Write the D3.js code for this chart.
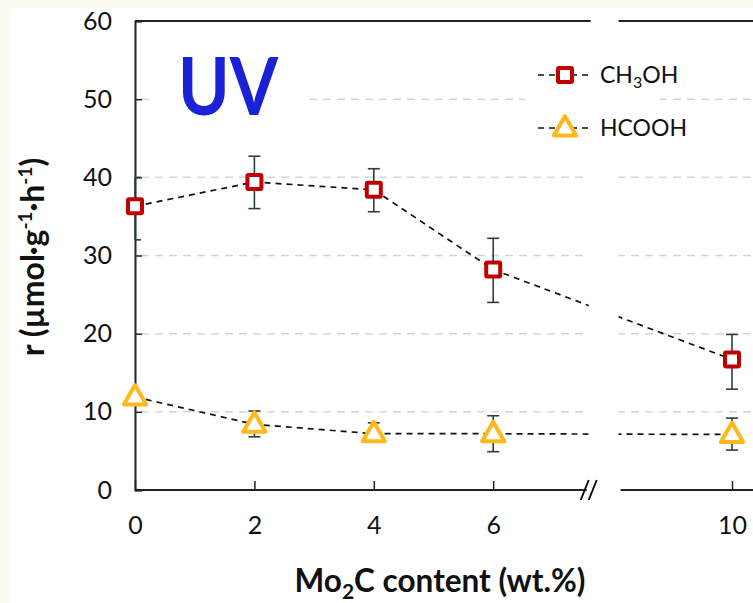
<html>

<head>
  <title>UV rate vs Mo2C content</title>
  <style>
    body { margin: 0; background: #fbfbf4; }
    text { font-family: Lato, "Open Sans", sans-serif; }
  </style>
</head>

<body>
  <script src="https://d3js.org/d3.v7.min.js"></script>
  <script>
    // data
    var loadings = [0, 2, 4, 6, 10];
    var xTicks = [0, 2, 4, 6, 10];
    var yTicks = [0, 10, 20, 30, 40, 50, 60];

    var ch3oh = [36.3, 39.4, 38.4, 28.2, 16.7];
    var ch3ohLow = [32.0, 36.0, 35.6, 24.0, 12.9];
    var ch3ohHigh = [40.0, 42.7, 41.1, 32.2, 19.9];

    var hcooh = [11.9, 8.4, 7.2, 7.2, 7.1];
    var hcoohLow = [11.9, 6.8, 7.2, 4.9, 5.1];
    var hcoohHigh = [11.9, 10.1, 8.6, 9.5, 9.2];

    var W = 753, H = 603;
    var svg = d3.select("body").append("svg")
      .attr("width", W)
      .attr("height", H);

    svg.append("rect").attr("width", W).attr("height", H).attr("fill", "#fbfbf4");
    svg.append("rect").attr("x", 10).attr("y", 8).attr("width", W - 10).attr("height", H - 8).attr("fill", "#ffffff");

    var x = d3.scaleLinear().domain([0, 10]).range([135, 732]);
    var y = d3.scaleLinear().domain([0, 60]).range([490, 21]);

    // axis break between 7.6 and 8.1 wt.%
    var bLo = x(7.6), bHi = x(8.1);

    var defs = svg.append("defs");
    var clip = defs.append("clipPath").attr("id", "brk");
    clip.append("rect").attr("x", 0).attr("y", 0).attr("width", bLo).attr("height", H);
    clip.append("rect").attr("x", bHi).attr("y", 0).attr("width", W - bHi).attr("height", H);

    // grid
    svg.append("g")
      .attr("clip-path", "url(#brk)")
      .selectAll("line")
      .data(yTicks.filter(function (d) { return d > 0 && d < 60; }))
      .enter().append("line")
      .attr("x1", x(0) + 6).attr("x2", W)
      .attr("y1", function (d) { return y(d); })
      .attr("y2", function (d) { return y(d); })
      .attr("stroke", "#cddadd")
      .attr("stroke-width", 1.5)
      .attr("stroke-dasharray", "8,6");

    // white boxes behind UV label and legend
    svg.append("rect").attr("x", 150).attr("y", 45).attr("width", 155).attr("height", 85).attr("fill", "#fff");
    svg.append("rect").attr("x", 525).attr("y", 50).attr("width", 135).attr("height", 100).attr("fill", "#fff");

    // frame: top line and axes
    svg.append("line").attr("x1", x(0)).attr("x2", bLo + 2).attr("y1", y(60)).attr("y2", y(60))
      .attr("stroke", "#222").attr("stroke-width", 2);
    svg.append("line").attr("x1", bHi).attr("x2", W).attr("y1", y(60)).attr("y2", y(60))
      .attr("stroke", "#222").attr("stroke-width", 2);

    var yAxis = d3.axisLeft(y).tickValues(yTicks).tickSize(-7).tickPadding(23);
    var gy = svg.append("g").attr("transform", "translate(" + x(0) + ",0)").call(yAxis);
    gy.select(".domain").attr("stroke", "#222").attr("stroke-width", 2);
    gy.selectAll(".tick line").attr("stroke", "#222").attr("stroke-width", 1.5);
    gy.selectAll(".tick text").attr("font-size", 25).attr("fill", "#111")
      .style("font-family", "Lato, sans-serif");

    var xAxis = d3.axisBottom(x).tickValues(xTicks).tickSize(-9).tickPadding(26);
    var gx = svg.append("g").attr("transform", "translate(0," + y(0) + ")").call(xAxis);
    gx.select(".domain").remove();
    gx.selectAll(".tick line").attr("stroke", "#222").attr("stroke-width", 1.5);
    gx.selectAll(".tick text").attr("font-size", 25).attr("fill", "#111")
      .style("font-family", "Lato, sans-serif");
    gx.append("line").attr("x1", x(0)).attr("x2", bLo - 2).attr("y1", 0).attr("y2", 0)
      .attr("stroke", "#222").attr("stroke-width", 2);
    gx.append("line").attr("x1", bHi + 2).attr("x2", W).attr("y1", 0).attr("y2", 0)
      .attr("stroke", "#222").attr("stroke-width", 2);
    // break marks
    [-4, 4].forEach(function (o) {
      gx.append("line")
        .attr("x1", bLo - 4 + o).attr("y1", 10)
        .attr("x2", bLo + 4 + o).attr("y2", -10)
        .attr("stroke", "#111").attr("stroke-width", 2);
    });

    // dashed connecting lines
    var line = d3.line()
      .x(function (d) { return x(d[0]); })
      .y(function (d) { return y(d[1]); });

    var lines = svg.append("g").attr("clip-path", "url(#brk)");
    lines.append("path")
      .attr("d", line(d3.zip(loadings, ch3oh)))
      .attr("fill", "none").attr("stroke", "#111").attr("stroke-width", 1.7)
      .attr("stroke-dasharray", "6,5");
    lines.append("path")
      .attr("d", line(d3.zip(loadings, hcooh)))
      .attr("fill", "none").attr("stroke", "#111").attr("stroke-width", 1.7)
      .attr("stroke-dasharray", "6,5");

    // error bars
    function errorBars(lo, hi) {
      var g = svg.append("g").attr("stroke", "#2f3f3f").attr("stroke-width", 1.6);
      loadings.forEach(function (v, i) {
        if (hi[i] === lo[i]) return;
        var cx = x(v);
        var left = v === 0 ? cx : cx - 6;
        g.append("line").attr("x1", cx).attr("x2", cx).attr("y1", y(lo[i])).attr("y2", y(hi[i]));
        g.append("line").attr("x1", left).attr("x2", cx + 6).attr("y1", y(lo[i])).attr("y2", y(lo[i]));
        g.append("line").attr("x1", left).attr("x2", cx + 6).attr("y1", y(hi[i])).attr("y2", y(hi[i]));
      });
    }
    errorBars(ch3ohLow, ch3ohHigh);
    errorBars(hcoohLow, hcoohHigh);

    // markers
    var red = "#c00000", gold = "#ffb81c";
    var tri = d3.symbol().type(d3.symbolTriangle).size(215);

    svg.append("g").selectAll("rect")
      .data(d3.zip(loadings, ch3oh))
      .enter().append("rect")
      .attr("x", function (d) { return x(d[0]) - 7; })
      .attr("y", function (d) { return y(d[1]) - 7; })
      .attr("width", 14).attr("height", 14)
      .attr("fill", "#fff").attr("stroke", red).attr("stroke-width", 4)
      .attr("rx", 1);

    svg.append("g").selectAll("path")
      .data(d3.zip(loadings, hcooh))
      .enter().append("path")
      .attr("d", tri)
      .attr("transform", function (d) { return "translate(" + x(d[0]) + "," + (y(d[1]) + 1) + ")"; })
      .attr("fill", "#fff").attr("stroke", gold).attr("stroke-width", 4)
      .attr("stroke-linejoin", "round");

    // UV label
    svg.append("text")
      .attr("x", 178).attr("y", 115)
      .attr("font-size", 80).attr("font-weight", "bold")
      .attr("fill", "#1a22d8")
      .attr("textLength", 100).attr("lengthAdjust", "spacingAndGlyphs")
      .text("UV");

    // legend
    var leg = svg.append("g");
    [[75, "sq"], [128, "tri"]].forEach(function (r) {
      leg.append("line").attr("x1", 538).attr("x2", 591).attr("y1", r[0]).attr("y2", r[0])
        .attr("stroke", "#111").attr("stroke-width", 1.6).attr("stroke-dasharray", "6,5");
      if (r[1] === "sq") {
        leg.append("rect").attr("x", 558).attr("y", r[0] - 7).attr("width", 14).attr("height", 14)
          .attr("fill", "#fff").attr("stroke", red).attr("stroke-width", 4).attr("rx", 1);
      } else {
        leg.append("path").attr("d", tri).attr("transform", "translate(565," + (r[0] + 1) + ")")
          .attr("fill", "#fff").attr("stroke", gold).attr("stroke-width", 4).attr("stroke-linejoin", "round");
      }
    });
    var t1 = leg.append("text").attr("x", 600).attr("y", 83).attr("font-size", 23).attr("fill", "#111");
    t1.append("tspan").text("CH");
    t1.append("tspan").attr("font-size", 16).attr("dy", 5).text("3");
    t1.append("tspan").attr("dy", -5).text("OH");
    leg.append("text").attr("x", 600).attr("y", 136).attr("font-size", 23).attr("fill", "#111").text("HCOOH");

    // axis titles
    var xt = svg.append("text")
      .attr("x", 440).attr("y", 592)
      .attr("text-anchor", "middle")
      .attr("font-size", 31.5).attr("font-weight", "bold").attr("fill", "#111");
    xt.append("tspan").text("Mo");
    xt.append("tspan").attr("font-size", 21).attr("dy", 7).text("2");
    xt.append("tspan").attr("dy", -7).text("C content (wt.%)");

    var yt = svg.append("text")
      .attr("transform", "translate(44,257) rotate(-90)")
      .attr("text-anchor", "middle")
      .attr("font-size", 32).attr("font-weight", "bold").attr("fill", "#111");
    yt.append("tspan").text("r (\u00b5mol\u00b7g");
    yt.append("tspan").attr("font-size", 19).attr("dy", -12).text("-1");
    yt.append("tspan").attr("dy", 12).text("\u00b7h");
    yt.append("tspan").attr("font-size", 19).attr("dy", -12).text("-1");
    yt.append("tspan").attr("dy", 12).text(")");
  </script>
</body>

</html>
